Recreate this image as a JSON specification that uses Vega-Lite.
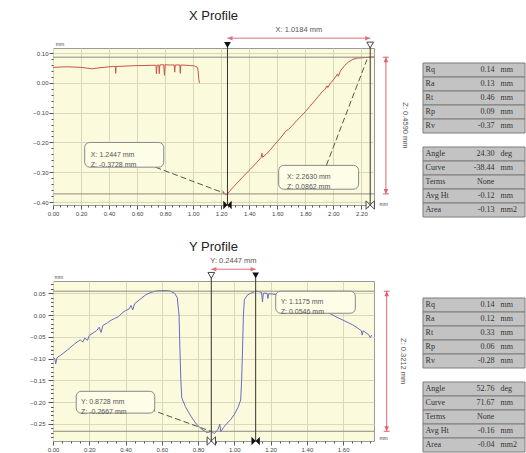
{
  "$schema": "https://vega.github.io/schema/vega-lite/v6.json",
  "background": "white",
  "padding": {"left": 29, "top": 9, "right": 0, "bottom": 0},
  "config": {
    "view": {"stroke": null},
    "font": "Liberation Sans",
    "axis": {"labelFont": "Liberation Sans", "labelFontSize": 6, "labelColor": "#444", "tickColor": "#555", "domain": false, "gridColor": "#d9d8b8", "labelPadding": 1, "title": null, "tickCount": 200}
  },
  "datasets": {
    "one": [{}],
    "xline": [
      {"seg": 1, "x": 0.00, "z": 0.052}, {"seg": 1, "x": 0.05, "z": 0.053}, {"seg": 1, "x": 0.10, "z": 0.054}, {"seg": 1, "x": 0.15, "z": 0.053},
      {"seg": 1, "x": 0.20, "z": 0.052}, {"seg": 1, "x": 0.25, "z": 0.049}, {"seg": 1, "x": 0.28, "z": 0.047}, {"seg": 1, "x": 0.32, "z": 0.050},
      {"seg": 1, "x": 0.38, "z": 0.053}, {"seg": 1, "x": 0.43, "z": 0.055}, {"seg": 1, "x": 0.445, "z": 0.055}, {"seg": 1, "x": 0.447, "z": 0.032},
      {"seg": 1, "x": 0.45, "z": 0.055}, {"seg": 1, "x": 0.50, "z": 0.056}, {"seg": 1, "x": 0.55, "z": 0.057}, {"seg": 1, "x": 0.60, "z": 0.058},
      {"seg": 1, "x": 0.65, "z": 0.058}, {"seg": 1, "x": 0.70, "z": 0.059}, {"seg": 1, "x": 0.735, "z": 0.059}, {"seg": 1, "x": 0.738, "z": 0.030},
      {"seg": 1, "x": 0.742, "z": 0.059}, {"seg": 1, "x": 0.755, "z": 0.060}, {"seg": 1, "x": 0.758, "z": 0.031}, {"seg": 1, "x": 0.762, "z": 0.060},
      {"seg": 1, "x": 0.79, "z": 0.061}, {"seg": 1, "x": 0.795, "z": 0.025}, {"seg": 1, "x": 0.80, "z": 0.061}, {"seg": 1, "x": 0.83, "z": 0.060},
      {"seg": 1, "x": 0.865, "z": 0.060}, {"seg": 1, "x": 0.868, "z": 0.036}, {"seg": 1, "x": 0.872, "z": 0.060}, {"seg": 1, "x": 0.905, "z": 0.060},
      {"seg": 1, "x": 0.908, "z": 0.032}, {"seg": 1, "x": 0.912, "z": 0.060}, {"seg": 1, "x": 0.95, "z": 0.059}, {"seg": 1, "x": 0.98, "z": 0.058},
      {"seg": 1, "x": 1.01, "z": 0.057}, {"seg": 1, "x": 1.03, "z": 0.052}, {"seg": 1, "x": 1.035, "z": 0.040}, {"seg": 1, "x": 1.04, "z": 0.012},
      {"seg": 1, "x": 1.045, "z": 0.000},
      {"seg": 2, "x": 1.21, "z": -0.362}, {"seg": 2, "x": 1.222, "z": -0.370}, {"seg": 2, "x": 1.232, "z": -0.376}, {"seg": 2, "x": 1.2447, "z": -0.3728},
      {"seg": 2, "x": 1.26, "z": -0.364}, {"seg": 2, "x": 1.29, "z": -0.348}, {"seg": 2, "x": 1.32, "z": -0.333}, {"seg": 2, "x": 1.35, "z": -0.318},
      {"seg": 2, "x": 1.38, "z": -0.303}, {"seg": 2, "x": 1.41, "z": -0.289}, {"seg": 2, "x": 1.44, "z": -0.274}, {"seg": 2, "x": 1.47, "z": -0.259},
      {"seg": 2, "x": 1.485, "z": -0.250}, {"seg": 2, "x": 1.49, "z": -0.236}, {"seg": 2, "x": 1.495, "z": -0.250}, {"seg": 2, "x": 1.52, "z": -0.240},
      {"seg": 2, "x": 1.55, "z": -0.225}, {"seg": 2, "x": 1.58, "z": -0.208}, {"seg": 2, "x": 1.61, "z": -0.192}, {"seg": 2, "x": 1.64, "z": -0.175},
      {"seg": 2, "x": 1.66, "z": -0.162}, {"seg": 2, "x": 1.68, "z": -0.156}, {"seg": 2, "x": 1.71, "z": -0.142}, {"seg": 2, "x": 1.74, "z": -0.126},
      {"seg": 2, "x": 1.77, "z": -0.112}, {"seg": 2, "x": 1.80, "z": -0.097}, {"seg": 2, "x": 1.83, "z": -0.080}, {"seg": 2, "x": 1.86, "z": -0.064},
      {"seg": 2, "x": 1.89, "z": -0.047}, {"seg": 2, "x": 1.92, "z": -0.030}, {"seg": 2, "x": 1.94, "z": -0.022}, {"seg": 2, "x": 1.955, "z": -0.010},
      {"seg": 2, "x": 1.96, "z": -0.016}, {"seg": 2, "x": 1.98, "z": -0.001}, {"seg": 2, "x": 2.01, "z": 0.016}, {"seg": 2, "x": 2.03, "z": 0.030},
      {"seg": 2, "x": 2.035, "z": 0.022}, {"seg": 2, "x": 2.05, "z": 0.040}, {"seg": 2, "x": 2.08, "z": 0.058}, {"seg": 2, "x": 2.11, "z": 0.071},
      {"seg": 2, "x": 2.14, "z": 0.079}, {"seg": 2, "x": 2.17, "z": 0.083}, {"seg": 2, "x": 2.20, "z": 0.084}, {"seg": 2, "x": 2.23, "z": 0.085},
      {"seg": 2, "x": 2.263, "z": 0.0862}, {"seg": 2, "x": 2.29, "z": 0.087}
    ],
    "yline": [
      {"y": 0.000, "z": -0.098}, {"y": 0.010, "z": -0.100}, {"y": 0.015, "z": -0.112}, {"y": 0.022, "z": -0.098}, {"y": 0.04, "z": -0.093},
      {"y": 0.08, "z": -0.080}, {"y": 0.12, "z": -0.066}, {"y": 0.15, "z": -0.057}, {"y": 0.165, "z": -0.062}, {"y": 0.175, "z": -0.053},
      {"y": 0.19, "z": -0.058}, {"y": 0.20, "z": -0.047}, {"y": 0.24, "z": -0.036}, {"y": 0.255, "z": -0.028}, {"y": 0.265, "z": -0.040},
      {"y": 0.275, "z": -0.024}, {"y": 0.30, "z": -0.018}, {"y": 0.32, "z": -0.012}, {"y": 0.34, "z": -0.008}, {"y": 0.36, "z": -0.004},
      {"y": 0.38, "z": 0.004}, {"y": 0.40, "z": 0.010}, {"y": 0.42, "z": 0.014}, {"y": 0.43, "z": 0.022}, {"y": 0.44, "z": 0.012},
      {"y": 0.45, "z": 0.026}, {"y": 0.48, "z": 0.036}, {"y": 0.51, "z": 0.046}, {"y": 0.54, "z": 0.052}, {"y": 0.57, "z": 0.055},
      {"y": 0.60, "z": 0.056}, {"y": 0.63, "z": 0.056}, {"y": 0.65, "z": 0.054}, {"y": 0.67, "z": 0.050}, {"y": 0.685, "z": 0.040},
      {"y": 0.695, "z": 0.000}, {"y": 0.70, "z": -0.080}, {"y": 0.705, "z": -0.150}, {"y": 0.71, "z": -0.190}, {"y": 0.73, "z": -0.210},
      {"y": 0.76, "z": -0.232}, {"y": 0.79, "z": -0.250}, {"y": 0.82, "z": -0.262}, {"y": 0.85, "z": -0.270}, {"y": 0.8728, "z": -0.2667},
      {"y": 0.89, "z": -0.272}, {"y": 0.91, "z": -0.262}, {"y": 0.92, "z": -0.250}, {"y": 0.925, "z": -0.268}, {"y": 0.94, "z": -0.258},
      {"y": 0.96, "z": -0.248}, {"y": 0.98, "z": -0.240}, {"y": 1.00, "z": -0.228}, {"y": 1.02, "z": -0.212}, {"y": 1.035, "z": -0.195},
      {"y": 1.04, "z": -0.150}, {"y": 1.045, "z": -0.080}, {"y": 1.05, "z": 0.000}, {"y": 1.055, "z": 0.035}, {"y": 1.07, "z": 0.045},
      {"y": 1.09, "z": 0.050}, {"y": 1.1175, "z": 0.0546}, {"y": 1.13, "z": 0.054}, {"y": 1.15, "z": 0.052}, {"y": 1.155, "z": 0.030},
      {"y": 1.16, "z": 0.050}, {"y": 1.18, "z": 0.050}, {"y": 1.185, "z": 0.038}, {"y": 1.19, "z": 0.049}, {"y": 1.25, "z": 0.046},
      {"y": 1.30, "z": 0.043}, {"y": 1.35, "z": 0.036}, {"y": 1.40, "z": 0.028}, {"y": 1.45, "z": 0.018}, {"y": 1.50, "z": 0.010},
      {"y": 1.55, "z": -0.002}, {"y": 1.60, "z": -0.012}, {"y": 1.65, "z": -0.022}, {"y": 1.68, "z": -0.030}, {"y": 1.70, "z": -0.036},
      {"y": 1.705, "z": -0.046}, {"y": 1.71, "z": -0.036}, {"y": 1.74, "z": -0.045}, {"y": 1.75, "z": -0.052}, {"y": 1.757, "z": -0.046}
    ],
    "xtab": [
      {"k": "Rq", "v": "0.14", "u": "mm"}, {"k": "Ra", "v": "0.13", "u": "mm"}, {"k": "Rt", "v": "0.46", "u": "mm"},
      {"k": "Rp", "v": "0.09", "u": "mm"}, {"k": "Rv", "v": "-0.37", "u": "mm"},
      {"k": "Angle", "v": "24.30", "u": "deg"}, {"k": "Curve", "v": "-38.44", "u": "mm"}, {"k": "Terms", "v": "None", "u": ""},
      {"k": "Avg Ht", "v": "-0.12", "u": "mm"}, {"k": "Area", "v": "-0.13", "u": "mm2"}
    ],
    "ytab": [
      {"k": "Rq", "v": "0.14", "u": "mm"}, {"k": "Ra", "v": "0.12", "u": "mm"}, {"k": "Rt", "v": "0.33", "u": "mm"},
      {"k": "Rp", "v": "0.06", "u": "mm"}, {"k": "Rv", "v": "-0.28", "u": "mm"},
      {"k": "Angle", "v": "52.76", "u": "deg"}, {"k": "Curve", "v": "71.67", "u": "mm"}, {"k": "Terms", "v": "None", "u": ""},
      {"k": "Avg Ht", "v": "-0.16", "u": "mm"}, {"k": "Area", "v": "-0.04", "u": "mm2"}
    ]
  },
  "spacing": 22,
  "vconcat": [
    {
      "width": 321, "height": 157,
      "title": {"text": "X Profile", "fontSize": 13, "fontWeight": "normal", "font": "Liberation Sans", "color": "#222", "frame": "group", "anchor": "middle", "offset": 3},
      "view": {"fill": "#fbfadd", "stroke": "#9a9a9a"},
      "resolve": {"scale": {"x": "independent", "y": "independent"}},
      "layer": [
        {
          "layer": [
            {"data": {"name": "xline"}, "mark": {"type": "line", "color": "#c9544b", "strokeWidth": 1},
             "encoding": {
               "x": {"field": "x", "type": "quantitative", "scale": {"domain": [0, 2.29], "nice": false, "zero": false},
                     "axis": {"values": [0,0.05,0.1,0.15,0.2,0.25,0.3,0.35,0.4,0.45,0.5,0.55,0.6,0.65,0.7,0.75,0.8,0.85,0.9,0.95,1,1.05,1.1,1.15,1.2,1.25,1.3,1.35,1.4,1.45,1.5,1.55,1.6,1.65,1.7,1.75,1.8,1.85,1.9,1.95,2,2.05,2.1,2.15,2.2,2.25],
                              "labelExpr": "round(datum.value*100) % 20 === 0 ? format(datum.value, '.2f') : ''", "labelOverlap": false, "labelFlush": false,
                              "tickSize": {"condition": {"test": "round(datum.value*100) % 20 === 0", "value": 4}, "value": 2},
                              "gridOpacity": {"condition": {"test": "round(datum.value*100) % 20 === 0", "value": 1}, "value": 0}}},
               "y": {"field": "z", "type": "quantitative", "scale": {"domain": [-0.41, 0.117], "nice": false, "zero": false},
                     "axis": {"values": [-0.4,-0.38,-0.36,-0.34,-0.32,-0.3,-0.28,-0.26,-0.24,-0.22,-0.2,-0.18,-0.16,-0.14,-0.12,-0.1,-0.08,-0.06,-0.04,-0.02,0,0.02,0.04,0.06,0.08,0.1],
                              "labelExpr": "round(datum.value*100) % 10 === 0 ? format(datum.value, '.2f') : ''", "labelOverlap": false, "labelFlush": false,
                              "tickSize": {"condition": {"test": "round(datum.value*100) % 10 === 0", "value": 4}, "value": 2},
                              "gridOpacity": {"condition": {"test": "round(datum.value*100) % 10 === 0", "value": 1}, "value": 0}}},
               "detail": {"field": "seg"}
             }},
            {"data": {"values": [{"z": 0.0862}, {"z": -0.3728}]}, "mark": {"type": "rule", "color": "#8c8c80", "strokeWidth": 1},
             "encoding": {"y": {"field": "z", "type": "quantitative"}}},
            {"data": {"values": [{"x": 1.2447}, {"x": 2.263}]}, "mark": {"type": "rule", "color": "#333", "strokeWidth": 1},
             "encoding": {"x": {"field": "x", "type": "quantitative"}, "y": {"datum": 0.127}, "y2": {"datum": -0.41}}},
            {"data": {"values": [{"x": 1.2447}]}, "mark": {"type": "point", "shape": "triangle-down", "filled": true, "color": "#111", "size": 45, "opacity": 1},
             "encoding": {"x": {"field": "x", "type": "quantitative"}, "y": {"datum": 0.127}}},
            {"data": {"values": [{"x": 2.263}]}, "mark": {"type": "point", "shape": "triangle-down", "filled": true, "fill": "white", "stroke": "#444", "strokeWidth": 1, "size": 45, "opacity": 1},
             "encoding": {"x": {"field": "x", "type": "quantitative"}, "y": {"datum": 0.127}}},
            {"data": {"values": [{"x": 1.2447}]}, "mark": {"type": "point", "shape": "M-1,-1L1,1L1,-1L-1,1Z", "filled": true, "color": "#111", "size": 70, "opacity": 1},
             "encoding": {"x": {"field": "x", "type": "quantitative"}, "y": {"datum": -0.41}}},
            {"data": {"values": [{"x": 2.263}]}, "mark": {"type": "point", "shape": "M-1,-1L1,1L1,-1L-1,1Z", "filled": true, "fill": "white", "stroke": "#444", "strokeWidth": 1, "size": 70, "opacity": 1},
             "encoding": {"x": {"field": "x", "type": "quantitative"}, "y": {"datum": -0.41}}},
            {"data": {"name": "one"}, "mark": {"type": "rule", "color": "#e0707c", "strokeWidth": 1},
             "encoding": {"x": {"datum": 1.2447}, "x2": {"datum": 2.263}, "y": {"datum": 0.15}}},
            {"data": {"name": "one"}, "mark": {"type": "point", "shape": "M0,0L2,-0.9L2,0.9Z", "filled": true, "color": "#e0707c", "size": 25, "opacity": 1},
             "encoding": {"x": {"datum": 1.2447}, "y": {"datum": 0.15}}},
            {"data": {"name": "one"}, "mark": {"type": "point", "shape": "M0,0L-2,-0.9L-2,0.9Z", "filled": true, "color": "#e0707c", "size": 25, "opacity": 1},
             "encoding": {"x": {"datum": 2.263}, "y": {"datum": 0.15}}},
            {"data": {"name": "one"}, "mark": {"type": "text", "fontSize": 7.5, "color": "#555", "align": "center", "baseline": "middle"},
             "encoding": {"x": {"datum": 1.754}, "y": {"datum": 0.178}, "text": {"value": "X: 1.0184 mm"}}},
            {"data": {"name": "one"}, "mark": {"type": "rule", "color": "#e0606e", "strokeWidth": 1},
             "encoding": {"x": {"datum": 2.375}, "y": {"datum": 0.0862}, "y2": {"datum": -0.3728}}},
            {"data": {"values": [{"z": 0.0862}, {"z": -0.3728}]}, "mark": {"type": "point", "shape": "M-1,0L1,0", "stroke": "#e0606e", "strokeWidth": 1, "size": 36, "opacity": 1},
             "encoding": {"x": {"datum": 2.375}, "y": {"field": "z", "type": "quantitative"}}},
            {"data": {"name": "one"}, "mark": {"type": "point", "shape": "M0,0L-0.9,2L0.9,2Z", "filled": true, "color": "#e0606e", "size": 25, "opacity": 1},
             "encoding": {"x": {"datum": 2.375}, "y": {"datum": 0.0862}}},
            {"data": {"name": "one"}, "mark": {"type": "point", "shape": "M0,0L-0.9,-2L0.9,-2Z", "filled": true, "color": "#e0606e", "size": 25, "opacity": 1},
             "encoding": {"x": {"datum": 2.375}, "y": {"datum": -0.3728}}},
            {"data": {"name": "one"}, "mark": {"type": "text", "fontSize": 7.5, "color": "#555", "align": "center", "baseline": "middle", "angle": 90},
             "encoding": {"x": {"datum": 2.51}, "y": {"datum": -0.143}, "text": {"value": "Z: 0.4590 mm"}}},
            {"data": {"name": "one"}, "mark": {"type": "rule", "color": "#4a5a4a", "strokeWidth": 1, "strokeDash": [6, 3]},
             "encoding": {"x": {"datum": 0.73}, "y": {"datum": -0.283}, "x2": {"datum": 1.22}, "y2": {"datum": -0.37}}},
            {"data": {"name": "one"}, "mark": {"type": "rule", "color": "#4a5a4a", "strokeWidth": 1, "strokeDash": [6, 3]},
             "encoding": {"x": {"datum": 1.95}, "y": {"datum": -0.277}, "x2": {"datum": 2.24}, "y2": {"datum": 0.078}}},
            {"data": {"name": "one"}, "mark": {"type": "rect", "fill": "#fdfde8", "stroke": "#888", "strokeWidth": 1, "cornerRadius": 5},
             "encoding": {"x": {"datum": 0.226}, "x2": {"datum": 0.79}, "y": {"datum": -0.20}, "y2": {"datum": -0.283}}},
            {"data": {"name": "one"}, "mark": {"type": "text", "fontSize": 7, "color": "#555", "align": "left", "baseline": "middle", "lineHeight": 10},
             "encoding": {"x": {"datum": 0.27}, "y": {"datum": -0.241}, "text": {"value": ["X: 1.2447 mm", "Z: -0.3728 mm"]}}},
            {"data": {"name": "one"}, "mark": {"type": "rect", "fill": "#fdfde8", "stroke": "#888", "strokeWidth": 1, "cornerRadius": 5},
             "encoding": {"x": {"datum": 1.61}, "x2": {"datum": 2.18}, "y": {"datum": -0.277}, "y2": {"datum": -0.357}}},
            {"data": {"name": "one"}, "mark": {"type": "text", "fontSize": 7, "color": "#555", "align": "left", "baseline": "middle", "lineHeight": 10},
             "encoding": {"x": {"datum": 1.67}, "y": {"datum": -0.317}, "text": {"value": ["X: 2.2630 mm", "Z: 0.0862 mm"]}}},
            {"data": {"name": "one"}, "mark": {"type": "text", "fontSize": 5, "color": "#444", "align": "left", "baseline": "bottom"},
             "encoding": {"x": {"datum": 0.02}, "y": {"datum": 0.119}, "text": {"value": "mm"}}},
            {"data": {"name": "one"}, "mark": {"type": "text", "fontSize": 5, "color": "#444", "align": "left", "baseline": "middle"},
             "encoding": {"x": {"datum": 2.33}, "y": {"datum": -0.405}, "text": {"value": "mm"}}}
          ]
        },
        {
          "data": {"name": "xtab"},
          "encoding": {"y": {"field": "k", "type": "nominal", "scale": {"domain": ["Rq","Ra","Rt","Rp","Rv"," ","Angle","Curve","Terms","Avg Ht","Area"], "range": [15, 169], "paddingInner": 0, "paddingOuter": 0}, "axis": null}},
          "layer": [
            {"mark": {"type": "rect", "fill": "#c3c3c3", "stroke": "#7d7d7d", "strokeWidth": 1},
             "encoding": {"x": {"datum": 0, "type": "quantitative", "scale": {"domain": [0, 100], "range": [370, 472], "nice": false, "zero": false}, "axis": null}, "x2": {"datum": 100}}},
            {"mark": {"type": "text", "align": "left", "font": "Liberation Serif", "fontSize": 8, "color": "#333"},
             "encoding": {"x": {"datum": 2.5}, "text": {"field": "k"}}},
            {"mark": {"type": "text", "align": "right", "font": "Liberation Serif", "fontSize": 8, "color": "#333"},
             "encoding": {"x": {"datum": 70}, "text": {"field": "v"}}},
            {"mark": {"type": "text", "align": "left", "font": "Liberation Serif", "fontSize": 8, "color": "#333"},
             "encoding": {"x": {"datum": 76}, "text": {"field": "u"}}}
          ]
        }
      ]
    },
    {
      "width": 321, "height": 160,
      "title": {"text": "Y Profile", "fontSize": 13, "fontWeight": "normal", "font": "Liberation Sans", "color": "#222", "frame": "group", "anchor": "middle", "offset": 3},
      "view": {"fill": "#fbfadd", "stroke": "#9a9a9a"},
      "resolve": {"scale": {"x": "independent", "y": "independent"}},
      "layer": [
        {
          "layer": [
            {"data": {"name": "yline"}, "mark": {"type": "line", "color": "#6b6bc4", "strokeWidth": 1},
             "encoding": {
               "x": {"field": "y", "type": "quantitative", "scale": {"domain": [0, 1.77], "nice": false, "zero": false},
                     "axis": {"values": [0,0.05,0.1,0.15,0.2,0.25,0.3,0.35,0.4,0.45,0.5,0.55,0.6,0.65,0.7,0.75,0.8,0.85,0.9,0.95,1,1.05,1.1,1.15,1.2,1.25,1.3,1.35,1.4,1.45,1.5,1.55,1.6,1.65,1.7,1.75],
                              "labelExpr": "round(datum.value*100) % 20 === 0 ? format(datum.value, '.2f') : ''", "labelOverlap": false, "labelFlush": false,
                              "tickSize": {"condition": {"test": "round(datum.value*100) % 20 === 0", "value": 4}, "value": 2},
                              "gridOpacity": {"condition": {"test": "round(datum.value*100) % 20 === 0", "value": 1}, "value": 0}}},
               "y": {"field": "z", "type": "quantitative", "scale": {"domain": [-0.289, 0.078], "nice": false, "zero": false},
                     "axis": {"values": [-0.28,-0.27,-0.26,-0.25,-0.24,-0.23,-0.22,-0.21,-0.2,-0.19,-0.18,-0.17,-0.16,-0.15,-0.14,-0.13,-0.12,-0.11,-0.1,-0.09,-0.08,-0.07,-0.06,-0.05,-0.04,-0.03,-0.02,-0.01,0,0.01,0.02,0.03,0.04,0.05,0.06,0.07],
                              "labelExpr": "round(datum.value*100) % 5 === 0 ? format(datum.value, '.2f') : ''", "labelOverlap": false, "labelFlush": false, "labelPadding": 3,
                              "tickSize": {"condition": {"test": "round(datum.value*100) % 5 === 0", "value": 5}, "value": 2.5},
                              "gridOpacity": {"condition": {"test": "round(datum.value*100) % 5 === 0", "value": 1}, "value": 0}}}
             }},
            {"data": {"values": [{"z": 0.0546}, {"z": -0.2667}]}, "mark": {"type": "rule", "color": "#8c8c80", "strokeWidth": 1},
             "encoding": {"y": {"field": "z", "type": "quantitative"}}},
            {"data": {"values": [{"y": 0.8728}, {"y": 1.1175}]}, "mark": {"type": "rule", "color": "#333", "strokeWidth": 1},
             "encoding": {"x": {"field": "y", "type": "quantitative"}, "y": {"datum": 0.091}, "y2": {"datum": -0.289}}},
            {"data": {"values": [{"y": 0.8728}]}, "mark": {"type": "point", "shape": "triangle-down", "filled": true, "fill": "white", "stroke": "#444", "strokeWidth": 1, "size": 45, "opacity": 1},
             "encoding": {"x": {"field": "y", "type": "quantitative"}, "y": {"datum": 0.091}}},
            {"data": {"values": [{"y": 1.1175}]}, "mark": {"type": "point", "shape": "triangle-down", "filled": true, "color": "#111", "size": 45, "opacity": 1},
             "encoding": {"x": {"field": "y", "type": "quantitative"}, "y": {"datum": 0.091}}},
            {"data": {"values": [{"y": 0.8728}]}, "mark": {"type": "point", "shape": "M-1,-1L1,1L1,-1L-1,1Z", "filled": true, "fill": "white", "stroke": "#444", "strokeWidth": 1, "size": 70, "opacity": 1},
             "encoding": {"x": {"field": "y", "type": "quantitative"}, "y": {"datum": -0.289}}},
            {"data": {"values": [{"y": 1.1175}]}, "mark": {"type": "point", "shape": "M-1,-1L1,1L1,-1L-1,1Z", "filled": true, "color": "#111", "size": 70, "opacity": 1},
             "encoding": {"x": {"field": "y", "type": "quantitative"}, "y": {"datum": -0.289}}},
            {"data": {"name": "one"}, "mark": {"type": "rule", "color": "#e0707c", "strokeWidth": 1},
             "encoding": {"x": {"datum": 0.8728}, "x2": {"datum": 1.1175}, "y": {"datum": 0.105}}},
            {"data": {"name": "one"}, "mark": {"type": "point", "shape": "M0,0L2,-0.9L2,0.9Z", "filled": true, "color": "#e0707c", "size": 25, "opacity": 1},
             "encoding": {"x": {"datum": 0.8728}, "y": {"datum": 0.105}}},
            {"data": {"name": "one"}, "mark": {"type": "point", "shape": "M0,0L-2,-0.9L-2,0.9Z", "filled": true, "color": "#e0707c", "size": 25, "opacity": 1},
             "encoding": {"x": {"datum": 1.1175}, "y": {"datum": 0.105}}},
            {"data": {"name": "one"}, "mark": {"type": "text", "fontSize": 7.5, "color": "#555", "align": "center", "baseline": "middle"},
             "encoding": {"x": {"datum": 0.995}, "y": {"datum": 0.124}, "text": {"value": "Y: 0.2447 mm"}}},
            {"data": {"name": "one"}, "mark": {"type": "rule", "color": "#e0606e", "strokeWidth": 1},
             "encoding": {"x": {"datum": 1.84}, "y": {"datum": 0.0546}, "y2": {"datum": -0.2667}}},
            {"data": {"values": [{"z": 0.0546}, {"z": -0.2667}]}, "mark": {"type": "point", "shape": "M-1,0L1,0", "stroke": "#e0606e", "strokeWidth": 1, "size": 36, "opacity": 1},
             "encoding": {"x": {"datum": 1.84}, "y": {"field": "z", "type": "quantitative"}}},
            {"data": {"name": "one"}, "mark": {"type": "point", "shape": "M0,0L-0.9,2L0.9,2Z", "filled": true, "color": "#e0606e", "size": 25, "opacity": 1},
             "encoding": {"x": {"datum": 1.84}, "y": {"datum": 0.0546}}},
            {"data": {"name": "one"}, "mark": {"type": "point", "shape": "M0,0L-0.9,-2L0.9,-2Z", "filled": true, "color": "#e0606e", "size": 25, "opacity": 1},
             "encoding": {"x": {"datum": 1.84}, "y": {"datum": -0.2667}}},
            {"data": {"name": "one"}, "mark": {"type": "text", "fontSize": 7.5, "color": "#555", "align": "center", "baseline": "middle", "angle": 90},
             "encoding": {"x": {"datum": 1.93}, "y": {"datum": -0.106}, "text": {"value": "Z: 0.3212 mm"}}},
            {"data": {"name": "one"}, "mark": {"type": "rule", "color": "#4a5a4a", "strokeWidth": 1, "strokeDash": [6, 3]},
             "encoding": {"x": {"datum": 0.533}, "y": {"datum": -0.216}, "x2": {"datum": 0.87}, "y2": {"datum": -0.2667}}},
            {"data": {"name": "one"}, "mark": {"type": "rect", "fill": "#fdfde8", "stroke": "#888", "strokeWidth": 1, "cornerRadius": 5},
             "encoding": {"x": {"datum": 0.128}, "x2": {"datum": 0.561}, "y": {"datum": -0.175}, "y2": {"datum": -0.225}}},
            {"data": {"name": "one"}, "mark": {"type": "text", "fontSize": 7, "color": "#555", "align": "left", "baseline": "middle", "lineHeight": 10},
             "encoding": {"x": {"datum": 0.155}, "y": {"datum": -0.200}, "text": {"value": ["Y: 0.8728 mm", "Z: -0.2667 mm"]}}},
            {"data": {"name": "one"}, "mark": {"type": "rect", "fill": "#fdfde8", "stroke": "#888", "strokeWidth": 1, "cornerRadius": 5},
             "encoding": {"x": {"datum": 1.228}, "x2": {"datum": 1.667}, "y": {"datum": 0.0546}, "y2": {"datum": 0.004}}},
            {"data": {"name": "one"}, "mark": {"type": "text", "fontSize": 7, "color": "#555", "align": "left", "baseline": "middle", "lineHeight": 10},
             "encoding": {"x": {"datum": 1.256}, "y": {"datum": 0.029}, "text": {"value": ["Y: 1.1175 mm", "Z: 0.0546 mm"]}}},
            {"data": {"name": "one"}, "mark": {"type": "text", "fontSize": 5, "color": "#444", "align": "left", "baseline": "bottom"},
             "encoding": {"x": {"datum": 0.01}, "y": {"datum": 0.08}, "text": {"value": "mm"}}},
            {"data": {"name": "one"}, "mark": {"type": "text", "fontSize": 5, "color": "#444", "align": "left", "baseline": "middle"},
             "encoding": {"x": {"datum": 1.80}, "y": {"datum": -0.282}, "text": {"value": "mm"}}}
          ]
        },
        {
          "data": {"name": "ytab"},
          "encoding": {"y": {"field": "k", "type": "nominal", "scale": {"domain": ["Rq","Ra","Rt","Rp","Rv"," ","Angle","Curve","Terms","Avg Ht","Area"], "range": [17, 171], "paddingInner": 0, "paddingOuter": 0}, "axis": null}},
          "layer": [
            {"mark": {"type": "rect", "fill": "#c3c3c3", "stroke": "#7d7d7d", "strokeWidth": 1},
             "encoding": {"x": {"datum": 0, "type": "quantitative", "scale": {"domain": [0, 100], "range": [370, 472], "nice": false, "zero": false}, "axis": null}, "x2": {"datum": 100}}},
            {"mark": {"type": "text", "align": "left", "font": "Liberation Serif", "fontSize": 8, "color": "#333"},
             "encoding": {"x": {"datum": 2.5}, "text": {"field": "k"}}},
            {"mark": {"type": "text", "align": "right", "font": "Liberation Serif", "fontSize": 8, "color": "#333"},
             "encoding": {"x": {"datum": 70}, "text": {"field": "v"}}},
            {"mark": {"type": "text", "align": "left", "font": "Liberation Serif", "fontSize": 8, "color": "#333"},
             "encoding": {"x": {"datum": 76}, "text": {"field": "u"}}}
          ]
        }
      ]
    }
  ]
}
